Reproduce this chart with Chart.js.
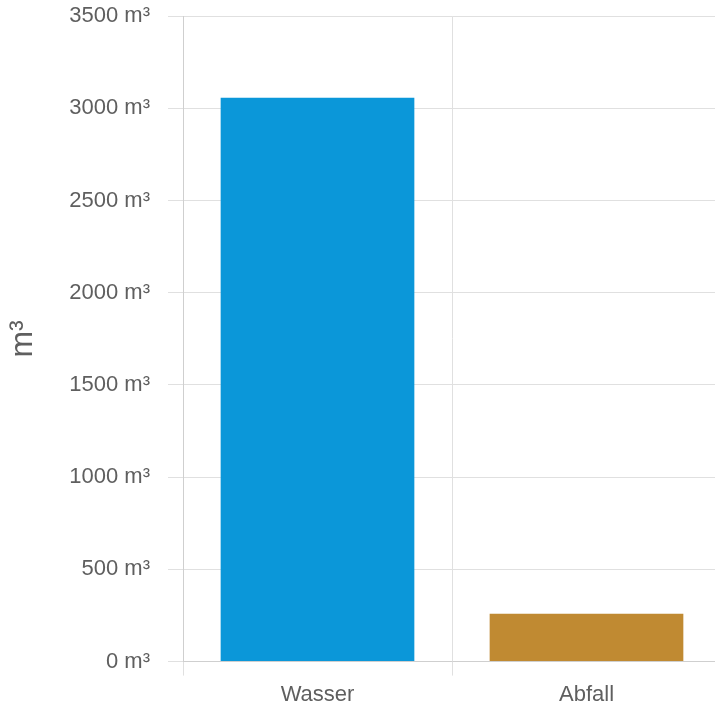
<!DOCTYPE html>
<html>
<head>
<meta charset="utf-8">
<script src="https://cdn.jsdelivr.net/npm/chart.js@4"></script>
<style>
  html, body { margin: 0; padding: 0; background: #fff; overflow: hidden; }
  #wrap { width: 721px; height: 724px; margin-top: -15px; }
</style>
</head>
<body>
<div id="wrap"><canvas id="c" width="721" height="724"></canvas></div>
<script>
// values (m³)
const categories = ['Wasser', 'Abfall'];
const volumes = [3058, 259];
const barColors = ['#0b97d9', '#c08a32'];
const yMax = 3500;
const yStep = 500;

const FONT = '"Helvetica Neue", Helvetica, Arial, "Liberation Sans", sans-serif';
const INK = '#5f5f5f';
const GRID = '#e0e0e0';

new Chart(document.getElementById('c'), {
  type: 'bar',
  data: {
    labels: categories,
    datasets: [{
      label: 'm³',
      data: volumes,
      backgroundColor: barColors,
      borderColor: barColors,
      borderWidth: 0,
    }],
  },
  options: {
    responsive: false,
    animation: false,
    layout: { padding: { top: 0, right: 0, bottom: -5, left: 0 } },
    plugins: { legend: { display: false }, tooltip: { enabled: false } },
    scales: {
      x: {
        grid: { color: GRID, tickLength: 14, offset: true },
        border: { color: '#cfcfcf' },
        ticks: { color: INK, font: { family: FONT, size: 22 }, padding: 6 },
      },
      y: {
        min: 0,
        max: yMax,
        grid: { color: GRID, tickLength: 15 },
        border: { color: '#cfcfcf' },
        ticks: {
          stepSize: yStep,
          color: INK,
          font: { family: FONT, size: 22 },
          padding: 18,
          callback: (v) => v + ' m³',
        },
        title: {
          display: true,
          text: 'm³',
          color: INK,
          font: { family: FONT, size: 32 },
          padding: { top: 4, bottom: 0 },
        },
        afterFit: (scale) => { scale.width = 183; },
      },
    },
  },
});
</script>
</body>
</html>
